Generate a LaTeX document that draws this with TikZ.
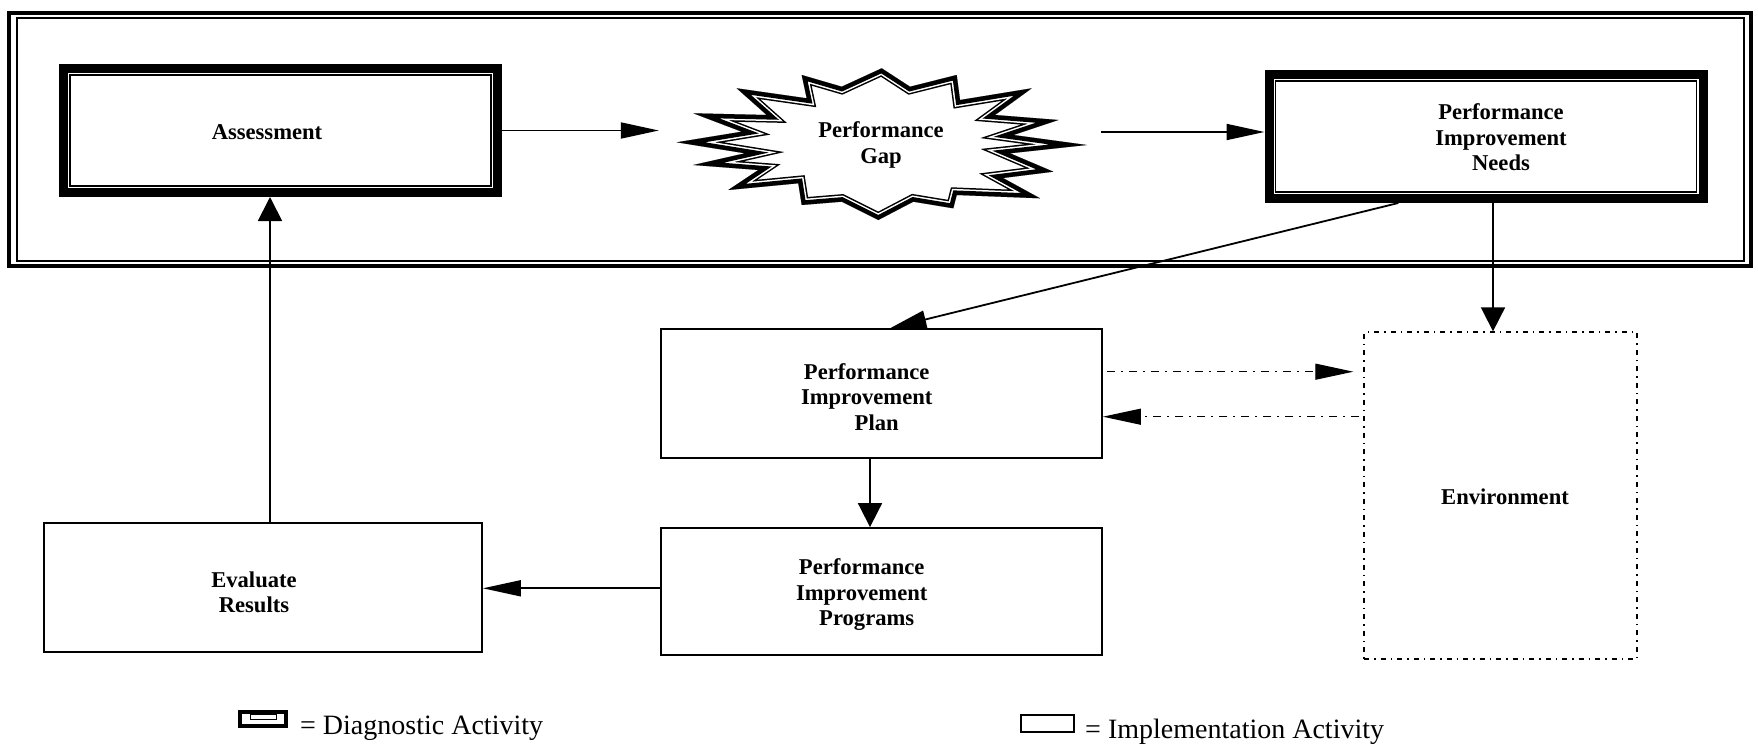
\documentclass[tikz,border=0pt]{standalone}
\usepackage{fontspec}
\setmainfont{Liberation Serif}
\usetikzlibrary{arrows.meta,calc}
\begin{document}
\begin{tikzpicture}[x=1pt,y=-1pt,
  plainbox/.style={draw,line width=1.8pt,inner sep=0},
  diagbox/.style={draw,line width=9pt,inner sep=0,minimum width=434pt,minimum height=124pt},
  envbox/.style={draw,line width=1.3pt,inner sep=0,dash pattern=on 5pt off 5pt on 1.5pt off 5pt},
  lbl/.style={font=\fontsize{22.6}{25.5}\selectfont\bfseries,align=center,inner sep=0},
  legtext/.style={font=\fontsize{28}{30}\selectfont,inner sep=0,anchor=base west},
  harr/.style={-{Triangle[length=38pt,width=16pt]},line width=1.8pt},
  varr/.style={-{Triangle[length=24pt,width=24pt]},line width=1.8pt},
  sarr/.style={-{Triangle[length=36pt,width=18pt]},line width=1.8pt},
  darr/.style={-{Triangle[length=38pt,width=16pt]},line width=1.2pt,dash pattern=on 8pt off 6pt on 2pt off 6pt},
  gappath/.style={insert path={(881.7,68.3) -- (910,86.7) -- (956.7,75) -- (960,100) -- (1031.7,88.3) -- (995,115) -- (1058.3,120) -- (1013.3,135) -- (1086.7,145) -- (1010,153.3) -- (1053.3,171.7) -- (1003,178) -- (1040,198.3) -- (956.7,195) -- (953.3,208.3) -- (913.3,201.7) -- (878.3,220) -- (841.7,201.7) -- (801.7,205) -- (798.3,183.3) -- (728.3,190) -- (758.3,170) -- (693.3,165) -- (745,153.3) -- (676.7,142.3) -- (741.7,131.7) -- (693.3,113.3) -- (766.7,115) -- (736.7,88.3) -- (806.7,98.3) -- (801.7,75) -- (841.7,86.7) -- cycle}}
]
\useasboundingbox (0,0) rectangle (1758,746);
\fill[white] (0,0) rectangle (1758,746);

% outer frame
\node[draw,line width=4.5pt,inner sep=0,outer sep=0,minimum width=1742pt,minimum height=253pt] (frame) at (880,139.5) {};
\draw[line width=1.5pt] ($(frame.north west)+(8,5)$) rectangle ($(frame.south east)+(-7,-5)$);

% diagnostic boxes
\node[diagbox] (assess) at (280.5,130.5) {};
\draw[line width=1.5pt] ($(assess.north west)+(11,11)$) rectangle ($(assess.south east)+(-11,-11)$);
\node[lbl] (assesst) at (267,132) {Assessment};

\node[diagbox] (pin) at (1486,136.5) {};
\draw[line width=1.5pt] ($(pin.north west)+(11,11)$) rectangle ($(pin.south east)+(-11,-11)$);
\node[lbl] (pint) at (1501,137.5) {Performance\\Improvement\\Needs};

% performance gap starburst
\begin{scope}
  \clip[gappath];
  \draw[line width=15pt,line join=miter,miter limit=30,gappath];
  \draw[white,line width=12pt,line join=miter,miter limit=30,gappath];
  \draw[line width=9pt,line join=miter,miter limit=30,gappath];
\end{scope}
\node[lbl,minimum width=410pt,minimum height=152pt] (gap) at (881,145) {Performance\\Gap};

% implementation boxes
\node[plainbox,minimum width=441pt,minimum height=129pt] (pip) at (881.5,393.5) {};
\node[lbl] (pipt) at (866.7,396.7) {Performance\\Improvement\\\hspace*{20pt}Plan};

\node[plainbox,minimum width=441pt,minimum height=127pt] (prog) at (881.5,591.5) {};
\node[lbl] (progt) at (861.7,595) {Performance\\Improvement\\\hspace*{10pt}Programs};

\node[plainbox,minimum width=438pt,minimum height=129pt] (eval) at (263,587.5) {};
\node[lbl] (evalt) at (254,592.5) {Evaluate\\Results};

\node[envbox,minimum width=273pt,minimum height=327pt] (env) at (1500.5,495.5) {};
\node[lbl] (envt) at (1505,497) {Environment};

% connectors
\draw[harr,shorten >=17pt] (assess.east) -- (gap.west |- assess.east);
\coordinate (g2) at (1101,132);
\draw[harr] (g2) -- (pin.west |- g2);
\draw[sarr] ($(pin.south west)!0.302!(pin.south east)$) -- ($(pip.north west)!0.52!(pip.north east)$);
\coordinate (e1) at (1493,0);
\draw[varr] (pin.south -| e1) -- (env.north -| e1);
\coordinate (fy) at (0,371.7);
\coordinate (ry) at (0,416.7);
\draw[darr,shorten <=4pt,shorten >=10pt] (pip.east |- fy) -- (env.west |- fy);
\draw[darr,shorten <=4pt] (env.west |- ry) -- (pip.east |- ry);
\coordinate (pp) at (870,0);
\draw[varr] (pip.south -| pp) -- (prog.north -| pp);
\coordinate (pe) at (0,588.3);
\draw[harr] (prog.west |- pe) -- (eval.east |- pe);
\coordinate (ea) at (270,0);
\draw[varr] (eval.north -| ea) -- (assess.south -| ea);

% legend
\node[draw,line width=4pt,inner sep=0,minimum width=46pt,minimum height=14pt] (dicon) at (263,719) {};
\draw[line width=1pt] ($(dicon.center)+(-13,-5)$) rectangle ($(dicon.center)+(13,0)$);
\node[legtext] (dtext) at (300,734) {= Diagnostic Activity};
\node[draw,line width=2pt,inner sep=0,minimum width=53pt,minimum height=17pt] (iicon) at (1047,723) {};
\node[legtext] (itext) at (1085,738) {= Implementation Activity};
\end{tikzpicture}
\end{document}
